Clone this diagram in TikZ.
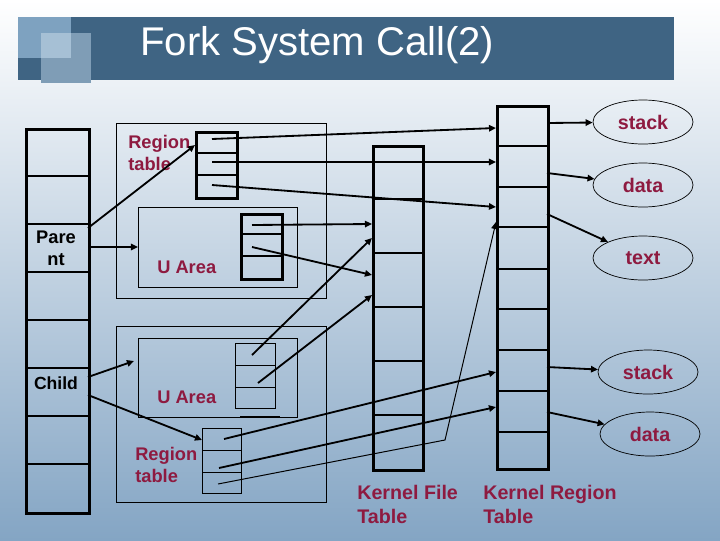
\documentclass[tikz,border=0pt]{standalone}
\usepackage{fontspec}
\setmainfont{Liberation Sans}
\usetikzlibrary{positioning, calc, shapes.geometric, arrows.meta}
\definecolor{titlebar}{HTML}{3F6483}
\definecolor{sqA}{HTML}{7EA2C0}
\definecolor{sqB}{HTML}{A6C0D5}
\definecolor{sqC}{HTML}{7F9DB6}
\definecolor{bgbottom}{HTML}{84A5C4}
\definecolor{lblred}{HTML}{8E1A40}

\begin{document}
\begin{tikzpicture}[x=0.025cm, y=-0.025cm,
  tbl/.style 2 args={draw, line width=2pt, minimum width={#1*\pxtocm cm},
    minimum height={#2*\pxtocm cm}, anchor=north west, inner sep=0pt},
  thinbox/.style 2 args={draw, line width=0.7pt, minimum width={#1*\pxtocm cm},
    minimum height={#2*\pxtocm cm}, anchor=north west, inner sep=0pt},
  divider/.style={line width=1.5pt},
  thindiv/.style={line width=0.7pt},
  lbl/.style={text=lblred, inner sep=0pt, align=left, anchor=west,
    font=\fontsize{13}{15.6}\selectfont\bfseries},
  klbl/.style={lbl, font=\fontsize{14}{17.1}\selectfont\bfseries},
  ent/.style={ellipse, draw, line width=0.5pt, minimum width={100*\pxtocm cm},
    minimum height={44*\pxtocm cm}, inner sep=0pt, text=lblred,
    font=\fontsize{14}{17}\selectfont\bfseries},
  link/.style={line width=1.3pt, -{Triangle[length=5pt, width=4.5pt]}},
]

\def\pxtocm{0.025}

\useasboundingbox (0,0) rectangle (720,540);

% background and title bar
\shade[top color=white, bottom color=bgbottom] (0,0) rectangle (720,540);
\fill[titlebar] (18,17) rectangle (674,80);
\fill[sqA] (18,17) rectangle (71,58);
\fill[sqC] (41,33) rectangle (91,83);
\fill[sqB] (41,33) rectangle (71,58);
\node[anchor=west, text=white, inner sep=0pt, font=\fontsize{28.5}{34}\selectfont]
  (title) at (140,45) {Fork System Call(2)};

% process table
\node[tbl={63}{384}] (proc) at (25,128) {};
\foreach \y in {176,224,...,464}
  \draw[divider] (25,\y) -- (88,\y);
\node[align=center, inner sep=0pt, font=\fontsize{13}{15.6}\selectfont\bfseries]
  (parent) at (56,248) {Pare\\nt};
\node[inner sep=0pt, font=\fontsize{12.5}{15}\selectfont\bfseries]
  (child) at (56,383) {Child};

% parent boxes
\node[thinbox={210}{175}] (pbox) at (116,123) {};
\node[thinbox={159}{80}] (pua) at (138,207) {};
\node[tbl={41}{66}] (prt) at (195,131) {};
\foreach \y in {153,175}
  \draw[divider] (195,\y) -- (236,\y);
\node[tbl={41}{65}] (put) at (240,213) {};
\foreach \y in {234,256}
  \draw[divider] (240,\y) -- (281,\y);
\node[lbl] (prtlbl) at (128,153) {Region\\table};
\node[lbl] (pualbl) at (157,267) {U Area};

% child boxes
\node[thinbox={210}{176}] (cbox) at (116,326) {};
\node[thinbox={159}{79}] (cua) at (138,338) {};
\node[thinbox={40}{65}] (cut) at (235,343) {};
\foreach \y in {365,387}
  \draw[thindiv] (235,\y) -- (275,\y);
\draw[line width=2pt] (240,417) -- (280,417);
\node[thinbox={39}{65}] (crt) at (202,428) {};
\foreach \y in {450,472}
  \draw[thindiv] (202,\y) -- (241,\y);
\node[lbl] (cualbl) at (157,397) {U Area};
\node[lbl] (crtlbl) at (135,465) {Region\\table};

% kernel file table
\node[tbl={50}{324}] (kft) at (372,145) {};
\foreach \y in {199,253,...,415}
  \draw[divider] (372,\y) -- (422,\y);
\node[klbl] (kftlbl) at (357,504) {Kernel File\\Table};

% kernel region table
\node[tbl={51}{363}] (krt) at (496,105) {};
\foreach \y in {146,187,227,269,309,350,391,432}
  \draw[divider] (496,\y) -- (547,\y);
\node[klbl] (krtlbl) at (483,504) {Kernel Region\\Table};

% regions
\node[ent] (stack1) at (643,122) {stack};
\node[ent] (data1) at (643,185) {data};
\node[ent] (text1) at (643,258) {text};
\node[ent] (stack2) at (648,372) {stack};
\node[ent] (data2) at (650,434) {data};

% connector ends
\coordinate (p-out1) at (88,228);  \coordinate (prt-in) at (195,145);
\coordinate (p-out2) at (88,247);  \coordinate (pua-in) at (138,247);
\coordinate (prt-e1) at (212,139); \coordinate (krt-a1) at (496,128);
\coordinate (prt-e2) at (212,162); \coordinate (krt-a2) at (496,162);
\coordinate (prt-e3) at (212,185); \coordinate (krt-a3) at (496,207);
\coordinate (put-e1) at (252,225); \coordinate (kft-a1) at (372,224);
\coordinate (put-e2) at (252,247); \coordinate (kft-a2) at (372,275);
\coordinate (c-out1) at (88,377);  \coordinate (cua-in) at (134,361);
\coordinate (c-out2) at (88,395);  \coordinate (crt-in) at (202,440);
\coordinate (cut-e1) at (252,355); \coordinate (kft-a3) at (372,238);
\coordinate (cut-e2) at (258,383); \coordinate (kft-a4) at (372,295);
\coordinate (crt-e1) at (224,439); \coordinate (krt-a4) at (496,372);
\coordinate (crt-e2) at (219,468); \coordinate (krt-a5) at (496,407);
\coordinate (crt-e3) at (218,484); \coordinate (bend) at (445,440);
\coordinate (krt-a6) at (496,222);
\coordinate (krt-b1) at (547,123); \coordinate (krt-b2) at (547,173);
\coordinate (krt-b3) at (547,214); \coordinate (krt-b4) at (547,367);
\coordinate (krt-b5) at (547,412);

% parent links
\draw[link] (p-out1) -- (prt-in);
\draw[link] (p-out2) -- (pua-in);
\draw[link] (prt-e1) -- (krt-a1);
\draw[link] (prt-e2) -- (krt-a2);
\draw[link] (prt-e3) -- (krt-a3);
\draw[link] (put-e1) -- (kft-a1);
\draw[link] (put-e2) -- (kft-a2);

% child links
\draw[link] (c-out1) -- (cua-in);
\draw[link] (c-out2) -- (crt-in);
\draw[link] (cut-e1) -- (kft-a3);
\draw[link] (cut-e2) -- (kft-a4);
\draw[link] (crt-e1) -- (krt-a4);
\draw[link] (crt-e2) -- (krt-a5);
\draw[link, line width=0.7pt] (crt-e3) -- (bend) -- (krt-a6);

% region links
\draw[link] (krt-b1) -- (stack1);
\draw[link] (krt-b2) -- (data1);
\draw[link] (krt-b3) -- (text1);
\draw[link] (krt-b4) -- (stack2);
\draw[link] (krt-b5) -- (data2);

\end{tikzpicture}
\end{document}
